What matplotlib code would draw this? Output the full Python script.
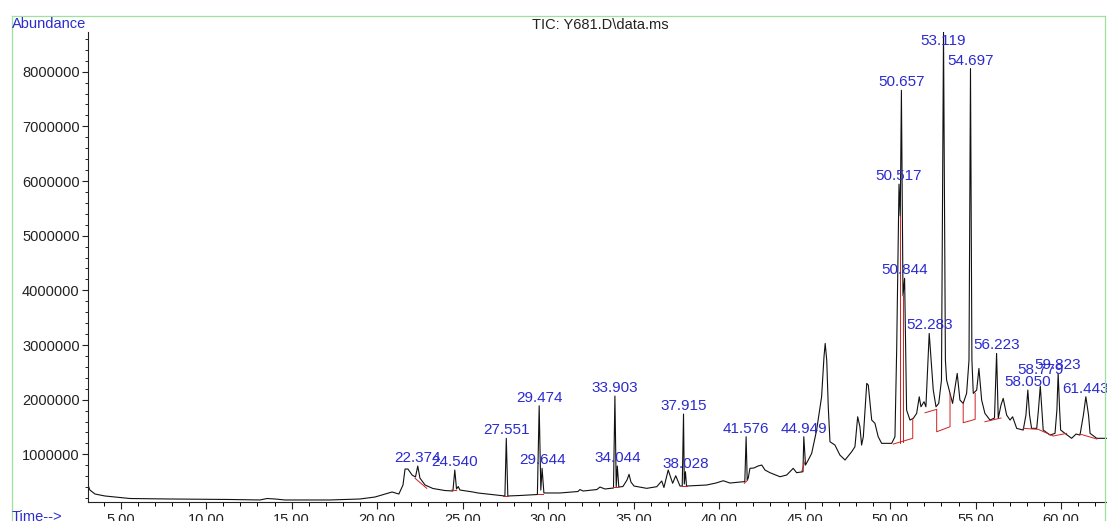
#
# TIC chromatogram (Y681.D) redrawn with matplotlib
#

import matplotlib
matplotlib.use("Agg")
import matplotlib.pyplot as plt
from matplotlib.lines import Line2D
from matplotlib.ticker import MultipleLocator, FixedLocator

plt.rcParams['font.family'] = ['Liberation Sans', 'DejaVu Sans']

# Trace: retention time (min) and abundance
time = [3.09, 3.20, 3.50, 4.08, 5.54, 7.88, 11.39, 13.15, 13.56, 14.03, 14.61, 17.24,
        18.99, 19.87, 20.46, 20.87, 21.27, 21.51, 21.63, 21.80, 22.04, 22.24, 22.374,
        22.50, 22.80, 23.26, 23.96, 24.43, 24.540, 24.64, 24.74, 24.84, 25.60, 25.89,
        26.99, 27.47, 27.551, 27.64, 28.35, 29.37, 29.474, 29.57, 29.644, 29.75, 30.69,
        31.74, 31.86, 32.04, 32.85, 33.03, 33.32, 33.82, 33.903, 33.98, 34.044, 34.13,
        34.37, 34.61, 34.73, 34.84, 35.02, 35.76, 36.35, 36.64, 36.77, 37.02, 37.28,
        37.46, 37.71, 37.84, 37.915, 37.96, 38.028, 38.09, 39.27, 39.81, 40.24, 40.63,
        41.41, 41.50, 41.576, 41.64, 41.70, 41.80, 42.03, 42.27, 42.49, 42.68, 42.97,
        43.56, 43.95, 44.33, 44.53, 44.90, 44.949, 45.05, 45.21, 45.41, 45.70, 45.99,
        46.13, 46.20, 46.29, 46.38, 46.48, 46.77, 47.06, 47.36, 47.75, 47.94, 48.10,
        48.23, 48.33, 48.43, 48.63, 48.72, 48.92, 49.11, 49.30, 49.50, 50.09, 50.28,
        50.38, 50.517, 50.59, 50.657, 50.75, 50.844, 50.96, 51.16, 51.35, 51.55, 51.70,
        51.80, 51.98, 52.09, 52.283, 52.52, 52.68, 52.84, 53.00, 53.119, 53.23, 53.30,
        53.50, 53.65, 53.92, 54.08, 54.27, 54.47, 54.61, 54.697, 54.78, 54.86, 55.06,
        55.19, 55.35, 55.54, 55.84, 56.10, 56.223, 56.32, 56.48, 56.61, 56.81, 57.01,
        57.16, 57.40, 57.78, 57.94, 58.050, 58.15, 58.27, 58.57, 58.67, 58.779, 58.87,
        58.95, 59.35, 59.64, 59.75, 59.823, 59.91, 59.97, 60.22, 60.61, 60.87, 61.10,
        61.30, 61.443, 61.60, 61.69, 62.08, 62.68]
abundance = [439000, 347000, 274000, 238000, 192000, 183000, 174000, 165000, 192000,
             183000, 165000, 165000, 183000, 219000, 274000, 311000, 274000, 439000,
             731000, 731000, 622000, 585000, 786000, 567000, 439000, 375000, 338000,
             329000, 713000, 366000, 411000, 347000, 311000, 293000, 256000, 238000,
             1293000, 238000, 247000, 265000, 1888000, 347000, 744000, 293000, 293000,
             320000, 356000, 329000, 356000, 402000, 366000, 384000, 2066000, 402000,
             786000, 402000, 411000, 530000, 634000, 494000, 420000, 378000, 408000,
             512000, 393000, 713000, 470000, 609000, 420000, 420000, 1737000, 457000,
             682000, 420000, 439000, 475000, 517000, 475000, 499000, 499000, 1322000,
             530000, 567000, 744000, 750000, 786000, 804000, 713000, 664000, 590000,
             622000, 744000, 664000, 682000, 1322000, 804000, 896000, 1018000, 1444000,
             2053000, 2784000, 3029000, 2724000, 1870000, 1230000, 1170000, 987000,
             896000, 1048000, 1139000, 1687000, 1505000, 1170000, 1322000, 2298000,
             2267000, 1627000, 1567000, 1322000, 1201000, 1201000, 1322000, 2907000,
             5942000, 5360000, 7660000, 3900000, 4220000, 1810000, 1627000, 1658000,
             1750000, 2053000, 1870000, 1962000, 1870000, 3212000, 2176000, 1870000,
             1932000, 2358000, 8726000, 2724000, 2358000, 2115000, 1932000, 2481000,
             1993000, 1932000, 2115000, 2724000, 8057000, 2724000, 2115000, 2176000,
             2572000, 1993000, 1750000, 1627000, 1664000, 2846000, 1658000, 1901000,
             2024000, 1719000, 1627000, 1687000, 1475000, 1444000, 1719000, 2176000,
             1719000, 1475000, 1475000, 1810000, 2249000, 1810000, 1444000, 1353000,
             1384000, 1810000, 2481000, 1810000, 1444000, 1384000, 1293000, 1371000,
             1353000, 1719000, 2053000, 1719000, 1384000, 1293000, 1293000]

# Integrated peaks (label, retention time, apex abundance)
peak_labels = ["22.374", "24.540", "27.551", "29.474", "29.644", "33.903", "34.044",
               "37.915", "38.028", "41.576", "44.949", "50.517", "50.657", "50.844",
               "52.283", "53.119", "54.697", "56.223", "58.050", "58.779", "59.823",
               "61.443"]
peak_rt = [22.374, 24.540, 27.551, 29.474, 29.644, 33.903, 34.044, 37.915, 38.028,
           41.576, 44.949, 50.517, 50.657, 50.844, 52.283, 53.119, 54.697, 56.223,
           58.050, 58.779, 59.823, 61.443]
peak_height = [786000, 713000, 1293000, 1888000, 744000, 2066000, 786000, 1737000,
               682000, 1322000, 1322000, 5942000, 7660000, 4220000, 3212000, 8726000,
               8057000, 2846000, 2176000, 2249000, 2481000, 2053000]

# Red integration baselines / drop lines (time, abundance) polylines
baseline_t = [[22.22, 22.90], [24.36, 24.65], [27.37, 27.67], [29.38, 29.71],
              [33.81, 34.10], [37.81, 38.10], [41.47, 41.67], [44.82, 45.02],
              [50.18, 51.32, 51.32], [50.59, 50.59], [50.75, 50.75],
              [52.04, 52.72, 52.72, 53.50, 53.50], [54.27, 54.27, 54.97, 54.97],
              [55.54, 56.48], [57.78, 58.66, 59.54, 60.32], [61.10, 62.09]]
baseline_a = [[561000, 378000], [347000, 335000], [238000, 238000], [274000, 274000],
              [397000, 397000], [420000, 420000], [470000, 530000], [682000, 865000],
              [1188000, 1293000, 1658000], [1210000, 5360000], [1229000, 3900000],
              [1761000, 1823000, 1413000, 1505000, 2115000],
              [1932000, 1578000, 1640000, 2115000],
              [1596000, 1664000], [1475000, 1457000, 1335000, 1384000],
              [1371000, 1280000]]

# special label shifts (points above apex)
label_shift = {"53.119": -6.5, "58.779": 11.5}

blue = '#2b2bcf'

fig = plt.figure(figsize=(11.07, 5.21), dpi=100)
ax = fig.add_axes([88 / 1107, 19 / 521, 1019 / 1107, 470 / 521])

ax.plot(time, abundance, color='#111111', lw=0.8)
for bt, ba in zip(baseline_t, baseline_a):
    ax.plot(bt, ba, color='#d02020', lw=0.7)

for lab, rt, h in zip(peak_labels, peak_rt, peak_height):
    ax.annotate(lab, (rt, h), xytext=(0, label_shift.get(lab, 5.8)),
                textcoords='offset points', ha='center', va='center',
                color=blue, fontsize=11, annotation_clip=False)

ax.set_xlim(3.09, 62.68)
ax.set_ylim(128000, 8726000)
for s in ['top', 'right']:
    ax.spines[s].set_visible(False)
for s in ['left', 'bottom']:
    ax.spines[s].set_linewidth(0.8)
    ax.spines[s].set_color('#222222')

ax.xaxis.set_major_locator(FixedLocator([5, 10, 15, 20, 25, 30, 35, 40, 45, 50, 55, 60]))
ax.xaxis.set_minor_locator(MultipleLocator(1))
ax.xaxis.set_major_formatter(lambda v, p: "%.2f" % v)
ax.yaxis.set_major_locator(FixedLocator([1e6, 2e6, 3e6, 4e6, 5e6, 6e6, 7e6, 8e6]))
ax.yaxis.set_minor_locator(MultipleLocator(200000))
ax.yaxis.set_major_formatter(lambda v, p: "%d" % v)
ax.tick_params(axis='x', which='major', direction='out', length=5, width=0.8,
               pad=3, labelsize=10.5, colors='#222222')
ax.tick_params(axis='x', which='minor', direction='out', length=3, width=0.7)
ax.tick_params(axis='y', which='major', direction='out', length=4, width=0.8,
               pad=2, labelsize=10.5, colors='#222222')
ax.tick_params(axis='y', which='minor', direction='out', length=2, width=0.6)

fig.text(600 / 1107, 1 - 25 / 521, "TIC: Y681.D\\data.ms", ha='center', va='center',
         fontsize=10.5, color='#222222')
fig.text(12 / 1107, 1 - 24 / 521, "Abundance", ha='left', va='center',
         fontsize=10.5, color=blue)
fig.text(12 / 1107, 1 - 517 / 521, "Time-->", ha='left', va='center',
         fontsize=10.5, color=blue)

# light green frame round the plot
W, H = 1107, 521
frame = dict(color='#9ee09e', lw=0.9, transform=fig.transFigure)
fig.add_artist(Line2D([12 / W, 1105 / W], [1 - 16 / H, 1 - 16 / H], **frame))
fig.add_artist(Line2D([12 / W, 12 / W], [0, 1 - 16 / H], **frame))
fig.add_artist(Line2D([1105 / W, 1105 / W], [0, 1 - 16 / H], **frame))

fig.savefig("out.png", dpi=100)
